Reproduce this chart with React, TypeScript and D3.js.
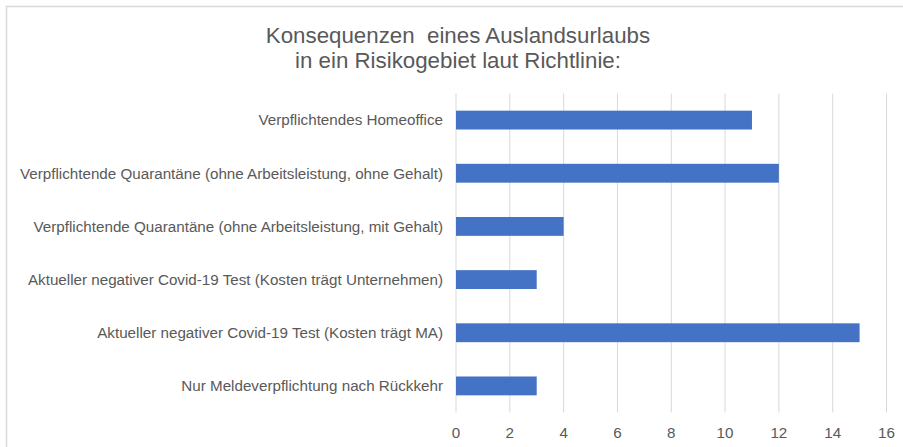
import React, { useEffect, useRef } from "react";
import * as d3 from "d3";

const categories = [
  "Verpflichtendes Homeoffice",
  "Verpflichtende Quarantäne (ohne Arbeitsleistung, ohne Gehalt)",
  "Verpflichtende Quarantäne (ohne Arbeitsleistung, mit Gehalt)",
  "Aktueller negativer Covid-19 Test (Kosten trägt Unternehmen)",
  "Aktueller negativer Covid-19 Test (Kosten trägt MA)",
  "Nur Meldeverpflichtung nach Rückkehr",
];
const values = [11, 12, 4, 3, 15, 3];
const tickValues = [0, 2, 4, 6, 8, 10, 12, 14, 16];
const titleLines = ["Konsequenzen  eines Auslandsurlaubs", "in ein Risikogebiet laut Richtlinie:"];

const width = 903;
const height = 447;

export default function App() {
  const ref = useRef<SVGSVGElement>(null);

  useEffect(() => {
    const svg = d3.select(ref.current);
    svg.selectAll("*").remove();

    const font = "'Liberation Sans', Arial, sans-serif";
    const textColor = "#595959";

    // chart border (only top and left visible in the crop)
    svg.append("rect")
      .attr("x", 6.5).attr("y", 6.5)
      .attr("width", 1000).attr("height", 1000)
      .attr("fill", "white")
      .attr("stroke", "#d9d9d9")
      .attr("stroke-width", 1.5);

    const plotLeft = 456, plotRight = 886.5, plotTop = 93.5, plotBottom = 412.5;

    const x = d3.scaleLinear().domain([0, 16]).range([plotLeft, plotRight]);
    const y = d3.scaleBand().domain(categories).range([plotTop, plotBottom]).paddingInner(1.82 / 2.82).paddingOuter(1.82 / 2.82 / 2);

    // title
    svg.append("g")
      .selectAll("text")
      .data(titleLines)
      .join("text")
      .attr("x", 458)
      .attr("y", (d, i) => 43 + i * 24.5)
      .attr("text-anchor", "middle")
      .attr("font-family", font)
      .attr("font-size", "22.3px")
      .attr("fill", textColor)
      .style("white-space", "pre")
      .text(d => d);

    // gridlines
    svg.append("g")
      .selectAll("line")
      .data(tickValues)
      .join("line")
      .attr("x1", d => x(d)).attr("x2", d => x(d))
      .attr("y1", plotTop).attr("y2", plotBottom)
      .attr("stroke", "#d9d9d9")
      .attr("stroke-width", 1);

    // bars
    svg.append("g")
      .selectAll("rect")
      .data(values)
      .join("rect")
      .attr("x", x(0))
      .attr("y", (d, i) => y(categories[i])!)
      .attr("width", d => x(d) - x(0))
      .attr("height", y.bandwidth())
      .attr("fill", "#4472c4");

    // category labels
    svg.append("g")
      .selectAll("text")
      .data(categories)
      .join("text")
      .attr("x", 443)
      .attr("y", d => y(d)! + y.bandwidth() / 2)
      .attr("dy", "0.35em")
      .attr("text-anchor", "end")
      .attr("font-family", font)
      .attr("font-size", "15.2px")
      .attr("fill", textColor)
      .text(d => d);

    // x tick labels
    svg.append("g")
      .selectAll("text")
      .data(tickValues)
      .join("text")
      .attr("x", d => x(d))
      .attr("y", 437.5)
      .attr("text-anchor", "middle")
      .attr("font-family", font)
      .attr("font-size", "15.2px")
      .attr("fill", textColor)
      .text(d => d);
  }, []);

  return (
    <svg ref={ref} width={width} height={height} style={{ position: "absolute", left: 0, top: 0, background: "white" }} />
  );
}
